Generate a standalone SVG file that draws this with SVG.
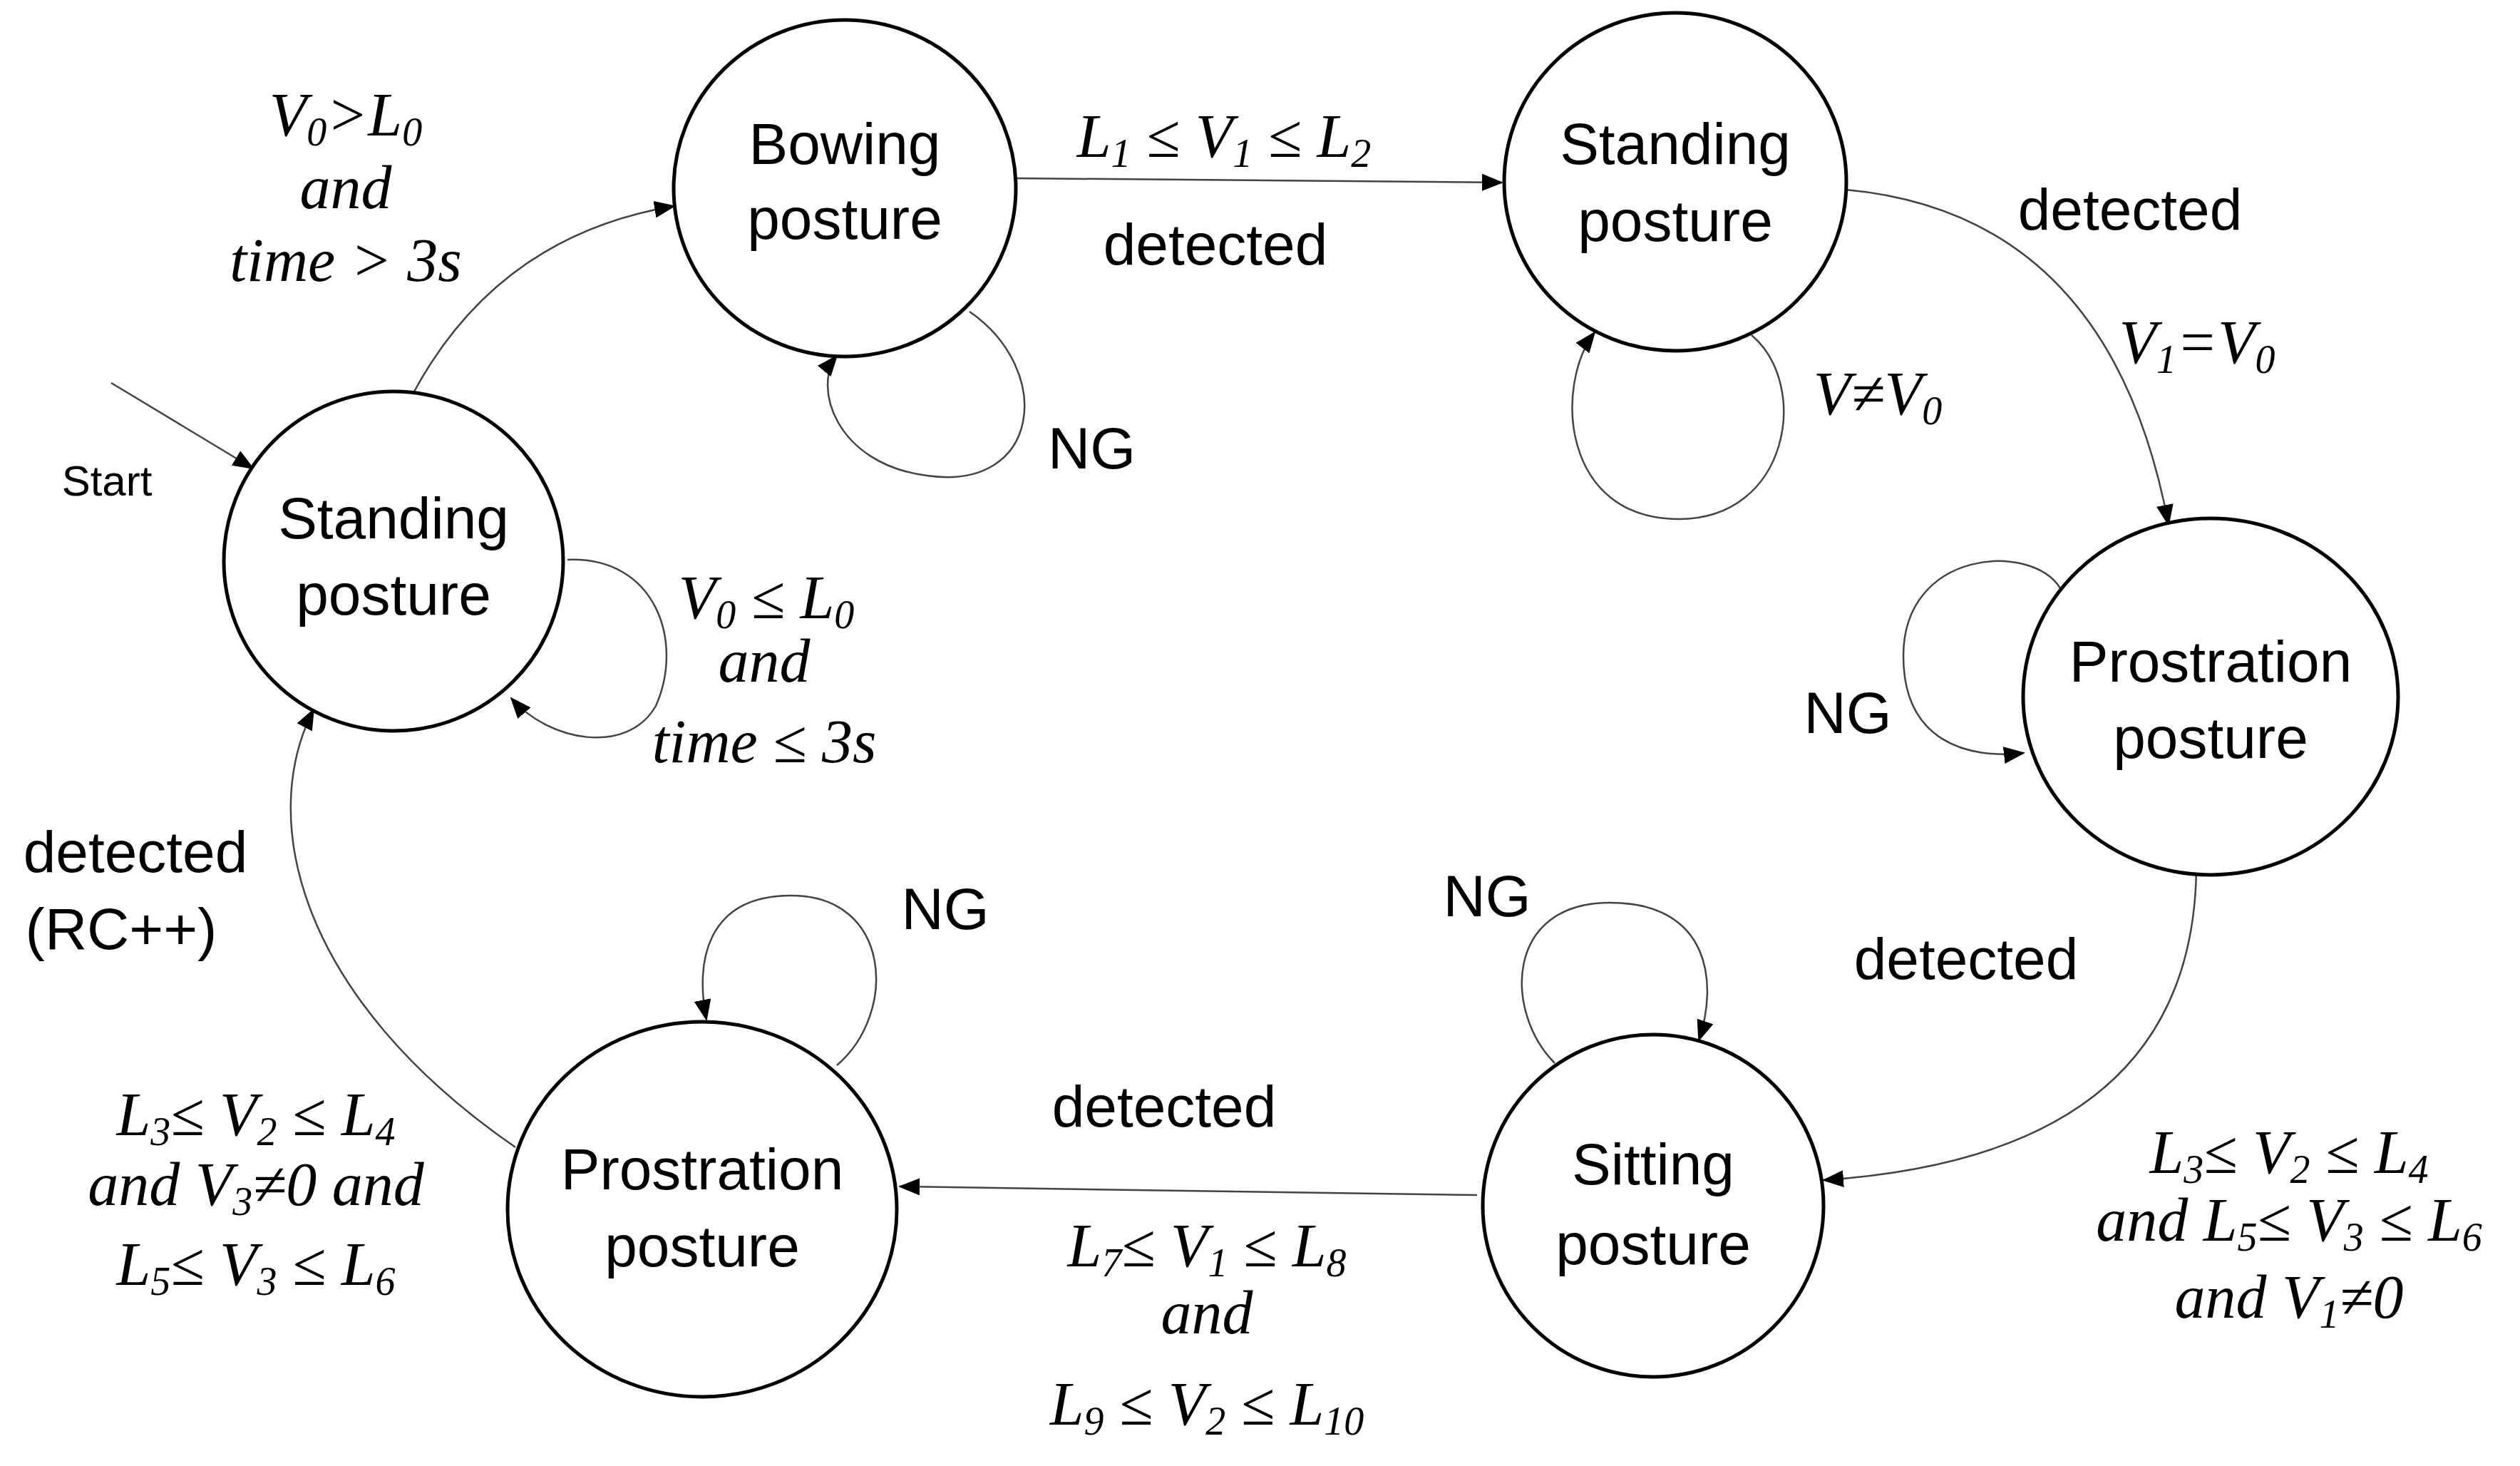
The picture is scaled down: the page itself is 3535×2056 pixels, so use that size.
<svg xmlns="http://www.w3.org/2000/svg" width="3535" height="2056" viewBox="0 0 3535 2056">
<style>
.node{fill:#fff;stroke:#000;stroke-width:5}
.lbl{font-family:"Liberation Sans",Arial,sans-serif;font-size:82px;fill:#000;text-anchor:middle}
.m{font-family:"Liberation Serif","Times New Roman",serif;font-style:italic;font-size:86px;fill:#000;text-anchor:middle}
.s{font-size:56px}
.c{fill:none;stroke:#444;stroke-width:2.5}
</style>
<defs>
<marker id="ah" markerWidth="30" markerHeight="24" refX="28" refY="12" orient="auto" markerUnits="userSpaceOnUse">
<path d="M0,0 L30,12 L0,24 Z" fill="#000"/>
</marker>
</defs>
<rect width="3535" height="2056" fill="#fff"/>
<g id="connectors" marker-end="url(#ah)">
<path class="c" d="M156,537 L355,657"/>
<path class="c" d="M581,549 Q700,330 946,289"/>
<path class="c" d="M1425,250 L2107,256"/>
<path class="c" d="M2589,266 Q2960,300 3042,736"/>
<path class="c" d="M3081,1213 Q3080,1620 2558,1655"/>
<path class="c" d="M2072,1676 L1262,1664"/>
<path class="c" d="M723,1609 C420,1400 360,1150 440,995"/>
<path class="c" d="M1360,437 C1480,520 1460,690 1300,667 C1170,650 1140,540 1174,499"/>
<path class="c" d="M2457,470 C2540,540 2510,728 2355,728 C2190,728 2180,540 2237,466"/>
<path class="c" d="M2890,825 C2850,760 2670,770 2670,920 C2670,1040 2760,1065 2839,1056"/>
<path class="c" d="M2181,1491 C2110,1420 2110,1266 2258,1266 C2400,1266 2410,1380 2383,1459"/>
<path class="c" d="M1174,1494 C1260,1420 1250,1256 1110,1256 C990,1256 975,1350 991,1430"/>
<path class="c" d="M796,785 C920,780 960,900 920,990 C880,1060 770,1040 717,979"/>
</g>
<g id="n_standing1"><ellipse class="node" cx="552" cy="787" rx="238" ry="238"/><text class="lbl" x="552" y="755">Standing</text><text class="lbl" x="552" y="862">posture</text></g>
<g id="n_bowing"><ellipse class="node" cx="1185" cy="264" rx="240" ry="236"/><text class="lbl" x="1185" y="230">Bowing</text><text class="lbl" x="1185" y="335">posture</text></g>
<g id="n_standing2"><ellipse class="node" cx="2350" cy="255" rx="240" ry="237"/><text class="lbl" x="2350" y="230">Standing</text><text class="lbl" x="2350" y="338">posture</text></g>
<g id="n_prostration1"><ellipse class="node" cx="3101" cy="977" rx="263" ry="250"/><text class="lbl" x="3101" y="956">Prostration</text><text class="lbl" x="3101" y="1063">posture</text></g>
<g id="n_sitting"><ellipse class="node" cx="2319" cy="1691" rx="239" ry="240"/><text class="lbl" x="2319" y="1661">Sitting</text><text class="lbl" x="2319" y="1773">posture</text></g>
<g id="n_prostration2"><ellipse class="node" cx="985" cy="1696" rx="273" ry="263"/><text class="lbl" x="985" y="1668">Prostration</text><text class="lbl" x="985" y="1776">posture</text></g>
<g id="labels">
<text class="lbl" style="font-size:60px" x="150" y="695">Start</text>
<text class="m" x="485" y="190">V<tspan class="s" dy="14">0</tspan><tspan dy="-14">&gt;L</tspan><tspan class="s" dy="14">0</tspan></text>
<text class="m" x="485" y="292">and</text>
<text class="m" x="485" y="394">time &gt; 3s</text>
<text class="m" x="1717" y="220">L<tspan class="s" dy="14">1</tspan><tspan dy="-14"> ≤ V</tspan><tspan class="s" dy="14">1</tspan><tspan dy="-14"> ≤ L</tspan><tspan class="s" dy="14">2</tspan></text>
<text class="lbl" x="1705" y="371">detected</text>
<text class="lbl" x="1470" y="657" style="text-anchor:start">NG</text>
<text class="lbl" x="2988" y="322">detected</text>
<text class="m" x="3082" y="509">V<tspan class="s" dy="14">1</tspan><tspan dy="-14">=V</tspan><tspan class="s" dy="14">0</tspan></text>
<text class="m" x="2634" y="581">V≠V<tspan class="s" dy="14">0</tspan></text>
<text class="lbl" x="2592" y="1028">NG</text>
<text class="m" x="1075" y="867">V<tspan class="s" dy="14">0</tspan><tspan dy="-14"> ≤ L</tspan><tspan class="s" dy="14">0</tspan></text>
<text class="m" x="1072" y="956">and</text>
<text class="m" x="1072" y="1069">time ≤ 3s</text>
<text class="lbl" x="190" y="1223">detected</text>
<text class="lbl" x="170" y="1331">(RC++)</text>
<text class="lbl" x="1326" y="1303">NG</text>
<text class="lbl" x="2086" y="1285">NG</text>
<text class="lbl" x="2758" y="1373">detected</text>
<text class="lbl" x="1633" y="1580">detected</text>
<text class="m" x="359" y="1592">L<tspan class="s" dy="14">3</tspan><tspan dy="-14">≤ V</tspan><tspan class="s" dy="14">2</tspan><tspan dy="-14"> ≤ L</tspan><tspan class="s" dy="14">4</tspan></text>
<text class="m" x="359" y="1690">and V<tspan class="s" dy="14">3</tspan><tspan dy="-14">≠0 and</tspan></text>
<text class="m" x="359" y="1802">L<tspan class="s" dy="14">5</tspan><tspan dy="-14">≤ V</tspan><tspan class="s" dy="14">3</tspan><tspan dy="-14"> ≤ L</tspan><tspan class="s" dy="14">6</tspan></text>
<text class="m" x="1693" y="1776">L<tspan class="s" dy="14">7</tspan><tspan dy="-14">≤ V</tspan><tspan class="s" dy="14">1</tspan><tspan dy="-14"> ≤ L</tspan><tspan class="s" dy="14">8</tspan></text>
<text class="m" x="1693" y="1870">and</text>
<text class="m" x="1693" y="1998">L<tspan class="s" dy="14">9</tspan><tspan dy="-14"> ≤ V</tspan><tspan class="s" dy="14">2</tspan><tspan dy="-14"> ≤ L</tspan><tspan class="s" dy="14">10</tspan></text>
<text class="m" x="3211" y="1645">L<tspan class="s" dy="14">3</tspan><tspan dy="-14">≤ V</tspan><tspan class="s" dy="14">2</tspan><tspan dy="-14"> ≤ L</tspan><tspan class="s" dy="14">4</tspan></text>
<text class="m" x="3211" y="1740">and L<tspan class="s" dy="14">5</tspan><tspan dy="-14">≤ V</tspan><tspan class="s" dy="14">3</tspan><tspan dy="-14"> ≤ L</tspan><tspan class="s" dy="14">6</tspan></text>
<text class="m" x="3211" y="1848">and V<tspan class="s" dy="14">1</tspan><tspan dy="-14">≠0</tspan></text>
</g>
</svg>
